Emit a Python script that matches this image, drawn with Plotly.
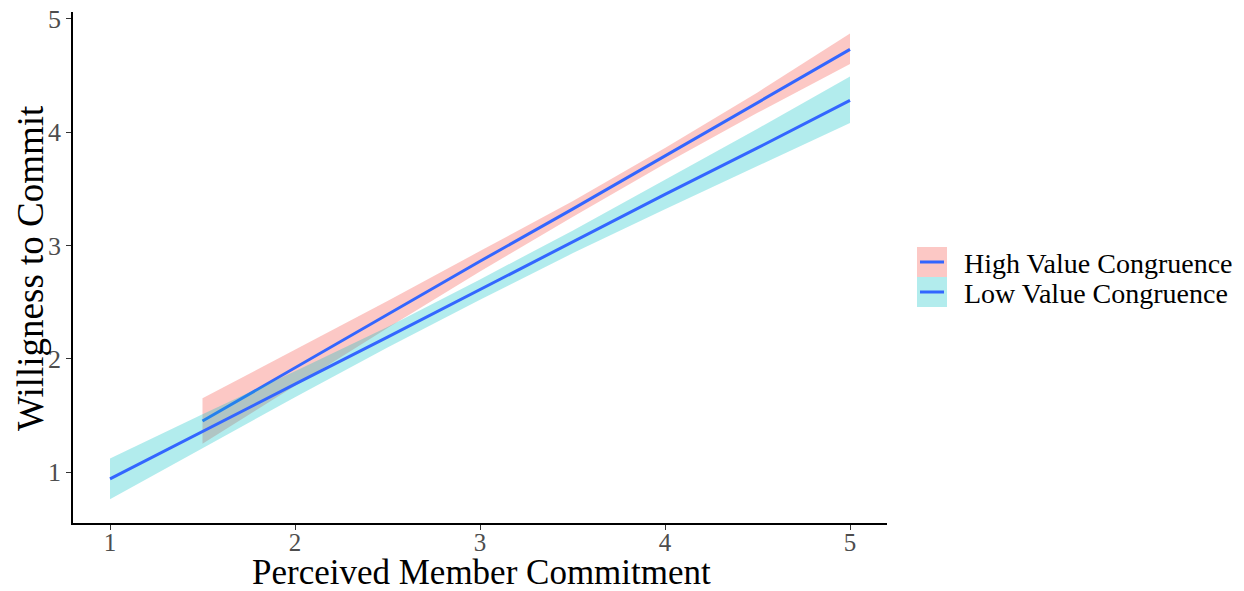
import plotly.graph_objects as go

# ---- data ----
high_x     = [1.5, 2.0, 2.5, 3.0, 3.5, 4.0, 4.5, 5.0]
high_fit   = [1.45, 1.92, 2.39, 2.86, 3.32, 3.79, 4.26, 4.73]
high_lower = [1.25, 1.76, 2.27, 2.77, 3.25, 3.72, 4.17, 4.60]
high_upper = [1.65, 2.08, 2.51, 2.95, 3.39, 3.86, 4.35, 4.87]

low_x      = [1.0, 1.5, 2.0, 2.5, 3.0, 3.5, 4.0, 4.5, 5.0]
low_fit    = [0.94, 1.36, 1.775, 2.19, 2.61, 3.03, 3.45, 3.86, 4.28]
low_lower  = [0.76, 1.21, 1.66, 2.10, 2.52, 2.93, 3.32, 3.70, 4.08]
low_upper  = [1.12, 1.51, 1.89, 2.28, 2.70, 3.13, 3.58, 4.03, 4.49]

series_names = ["High Value Congruence", "Low Value Congruence"]
tick_vals = [1, 2, 3, 4, 5]
x_title = "Perceived Member Commitment"
y_title = "Willigness to Commit"

LINE = "#3366FF"
FILL_HIGH = "rgba(248,118,109,0.4)"
FILL_LOW = "rgba(0,191,196,0.3)"
FONT = "Liberation Serif"

fig = go.Figure()

def add_group(x, fit, lo, hi, fill, name):
    fig.add_trace(go.Scatter(x=x + x[::-1], y=hi + lo[::-1], fill="toself",
                             fillcolor=fill, line=dict(width=0), mode="lines",
                             hoverinfo="skip", showlegend=False, name=name))
    fig.add_trace(go.Scatter(x=x, y=fit, mode="lines",
                             line=dict(color=LINE, width=3), showlegend=False, name=name))

add_group(high_x, high_fit, high_lower, high_upper, FILL_HIGH, series_names[0])
add_group(low_x, low_fit, low_lower, low_upper, FILL_LOW, series_names[1])

# plot area in pixels
L, R, T, B = 73, 887, 12, 523
W, H = 1244, 591

def px(x):
    return (x - L) / (R - L)

def py(y):
    return (B - y) / (B - T)

shapes = []
annotations = []
fills = [FILL_HIGH, FILL_LOW]
for i, name in enumerate(series_names):
    top = 247 + 30 * i
    shapes.append(dict(type="rect", xref="paper", yref="paper",
                       x0=px(917), x1=px(947), y0=py(top + 30), y1=py(top),
                       fillcolor=fills[i], line=dict(width=0), layer="above"))
    shapes.append(dict(type="line", xref="paper", yref="paper",
                       x0=px(920), x1=px(944), y0=py(top + 15), y1=py(top + 15),
                       line=dict(color=LINE, width=3), layer="above"))
    annotations.append(dict(xref="paper", yref="paper", x=px(962), y=py(top + 16),
                            text=name, showarrow=False, xanchor="left", yanchor="middle",
                            font=dict(family=FONT, size=28, color="black")))

annotations.append(dict(xref="paper", yref="paper", x=px(481), y=py(573),
                        text=x_title, showarrow=False, xanchor="center", yanchor="middle",
                        font=dict(family=FONT, size=35, color="black")))
annotations.append(dict(xref="paper", yref="paper", x=px(30), y=py(268),
                        text=y_title, showarrow=False, xanchor="center", yanchor="middle",
                        textangle=-90,
                        font=dict(family=FONT, size=37, color="black")))

fig.update_layout(
    width=W, height=H,
    margin=dict(l=L, r=W - R, t=T, b=H - B),
    paper_bgcolor="white", plot_bgcolor="white",
    showlegend=False,
    shapes=shapes, annotations=annotations,
    font=dict(family=FONT),
)
fig.update_xaxes(range=[0.8, 5.2], tickvals=tick_vals, showgrid=False, zeroline=False,
                 automargin=False, ticklabelstandoff=-9,
                 showline=True, linecolor="black", linewidth=1.5,
                 ticks="outside", ticklen=5, tickcolor="#333333", tickwidth=1.2,
                 tickfont=dict(family=FONT, size=25, color="#4D4D4D"))
fig.update_yaxes(range=[0.55, 5.06], tickvals=tick_vals, showgrid=False, zeroline=False,
                 automargin=False,
                 showline=True, linecolor="black", linewidth=1.5,
                 ticks="outside", ticklen=5, tickcolor="#333333", tickwidth=1.2,
                 tickfont=dict(family=FONT, size=26, color="#4D4D4D"))

fig.write_html("out.html", config={"displayModeBar": False},
               post_script="document.body.style.margin='0';")
